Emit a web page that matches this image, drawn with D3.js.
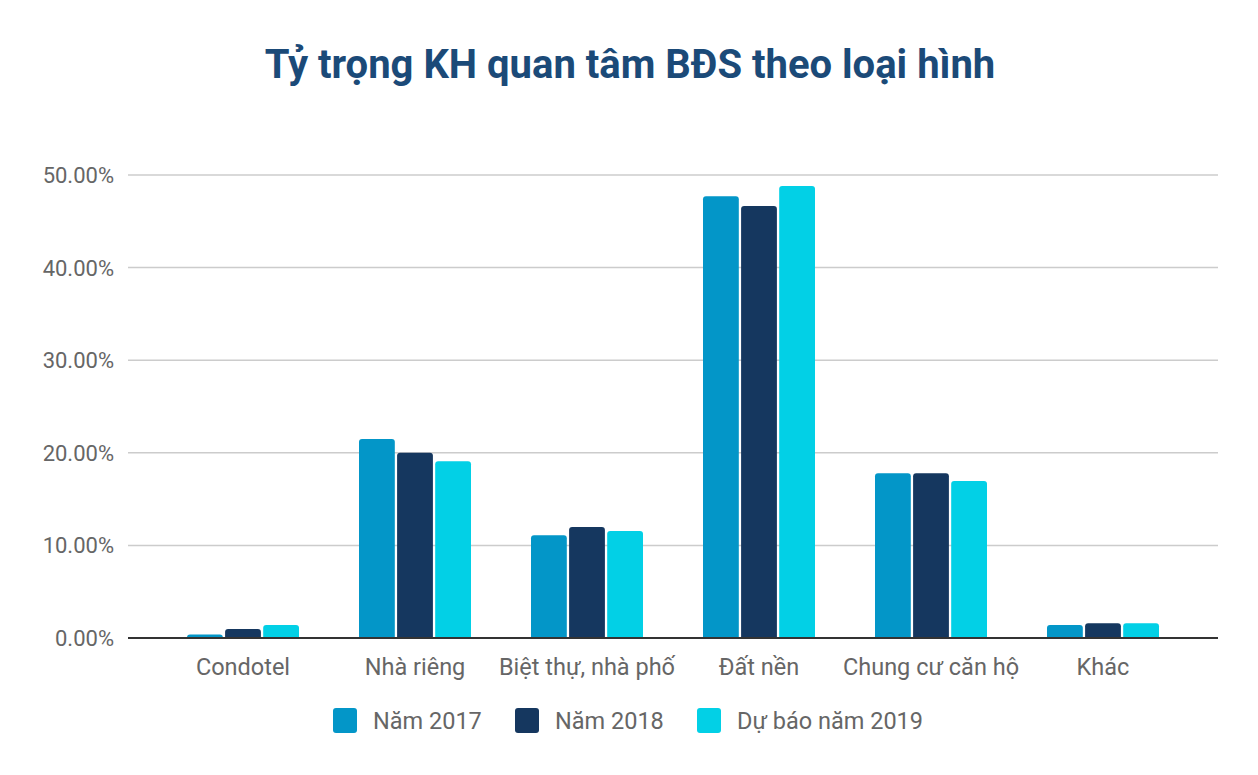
<!DOCTYPE html>
<html>
<head>
<meta charset="utf-8">
<script src="https://cdn.jsdelivr.net/npm/d3@7"></script>
<style>
  body { margin: 0; background: #fff; }
  text { font-family: Roboto, sans-serif; }
</style>
</head>
<body>
<div id="chart"></div>
<script>
// categories and series
const categories = ["Condotel", "Nhà riêng", "Biệt thự, nhà phố", "Đất nền", "Chung cư căn hộ", "Khác"];
const seriesNames = ["Năm 2017", "Năm 2018", "Dự báo năm 2019"];
const values2017 = [0.38, 21.5, 11.1, 47.7, 17.8, 1.4];
const values2018 = [0.97, 20.0, 12.0, 46.65, 17.8, 1.6];
const values2019 = [1.4, 19.1, 11.55, 48.8, 16.95, 1.6];
const yTicks = [0, 10, 20, 30, 40, 50];
const colors = ["#0396c8", "#15375f", "#02d0e6"];

const width = 1258, height = 775;
const svg = d3.select('#chart').append('svg')
    .attr('width', width)
    .attr('height', height);

// title
svg.append('text')
    .attr('x', 630)
    .attr('y', 78)
    .attr('text-anchor', 'middle')
    .style('font-size', '40px')
    .style('font-weight', 'bold')
    .style('fill', '#1b4a78')
    .text('Tỷ trọng KH quan tâm BĐS theo loại hình');

let gridLeft = 128, gridRight = 1218;
let y = d3.scaleLinear().domain([0, 50]).range([638, 175]);
let x = d3.scaleBand().domain(categories).range([157, 1189]);
let xs = d3.scaleBand().domain(seriesNames).range([-56, 56]).paddingInner(0.06);

// gridlines
svg.selectAll('line.grid')
    .data(yTicks.filter(d => d > 0))
    .enter()
    .append('line')
    .attr('class', 'grid')
    .attr('x1', gridLeft)
    .attr('x2', gridRight)
    .attr('y1', d => y(d))
    .attr('y2', d => y(d))
    .style('stroke', '#cccccc')
    .style('stroke-width', 1.5);

// y tick labels
svg.selectAll('text.ytick')
    .data(yTicks)
    .enter()
    .append('text')
    .attr('class', 'ytick')
    .attr('x', 114)
    .attr('y', d => y(d) + 8)
    .attr('text-anchor', 'end')
    .style('font-size', '22px')
    .style('fill', '#666666')
    .text(d => d3.format('.2f')(d) + '%');

// bars with rounded tops
let allSeries = [values2017, values2018, values2019];
let rows = [];
categories.forEach((c, i) => {
    seriesNames.forEach((s, j) => {
        rows.push({cat: c, series: s, value: allSeries[j][i], idx: j});
    });
});
function topRounded(x0, y0, w, h, r) {
    r = Math.min(r, h, w / 2);
    return `M${x0},${y0 + h}V${y0 + r}Q${x0},${y0} ${x0 + r},${y0}` +
        `H${x0 + w - r}Q${x0 + w},${y0} ${x0 + w},${y0 + r}V${y0 + h}Z`;
}
svg.selectAll('path.bar')
    .data(rows)
    .enter()
    .append('path')
    .attr('class', 'bar')
    .attr('d', d => {
        let cx = x(d.cat) + x.bandwidth() / 2;
        let x0 = cx + xs(d.series);
        return topRounded(x0, y(d.value), xs.bandwidth(), y(0) - y(d.value), 3);
    })
    .style('fill', d => colors[d.idx]);

// baseline
svg.append('line')
    .attr('x1', gridLeft)
    .attr('x2', gridRight)
    .attr('y1', y(0))
    .attr('y2', y(0))
    .style('stroke', '#333333')
    .style('stroke-width', 2);

// x labels
svg.selectAll('text.xlab')
    .data(categories)
    .enter()
    .append('text')
    .attr('class', 'xlab')
    .attr('x', d => x(d) + x.bandwidth() / 2)
    .attr('y', 675)
    .attr('text-anchor', 'middle')
    .style('font-size', '23.5px')
    .style('fill', '#666666')
    .text(d => d);

// legend
let legendX = [333, 515, 697];
let legend = svg.selectAll('g.legend')
    .data(seriesNames)
    .enter()
    .append('g')
    .attr('class', 'legend')
    .attr('transform', (d, i) => `translate(${legendX[i]}, 708)`);
legend.append('rect')
    .attr('width', 24)
    .attr('height', 25)
    .attr('rx', 3)
    .style('fill', (d, i) => colors[i]);
legend.append('text')
    .attr('x', 40)
    .attr('y', 21)
    .style('font-size', '23.5px')
    .style('fill', '#666666')
    .text(d => d);
</script>
</body>
</html>
